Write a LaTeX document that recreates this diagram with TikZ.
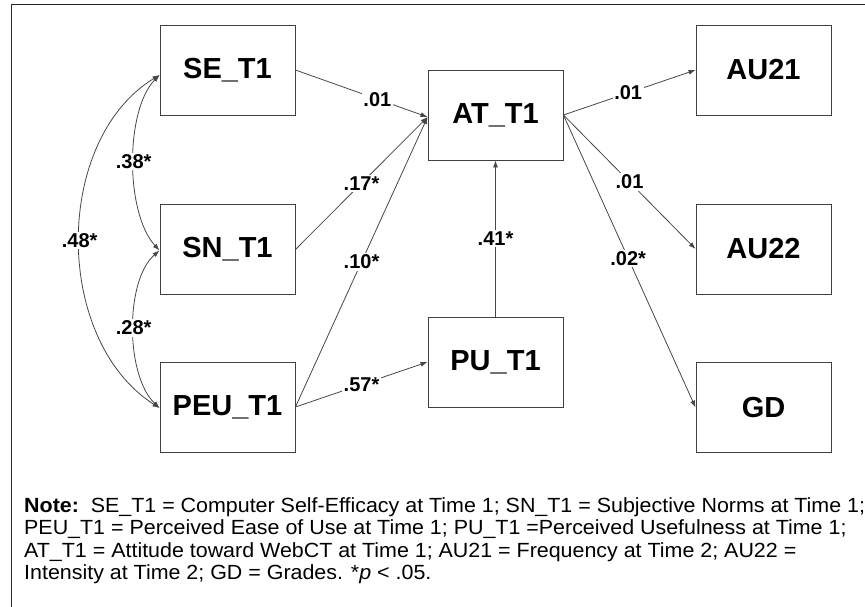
\documentclass[tikz,border=0pt]{standalone}
\usepackage{fontspec}
\setmainfont{Liberation Sans}
\newfontfamily\notefont[FakeStretch=1.045]{Liberation Sans}
\usetikzlibrary{arrows.meta,positioning}
\begin{document}
\begin{tikzpicture}[x=1pt,y=-1pt,
  var/.style={draw=black!75,line width=0.9pt,minimum width=135pt,minimum height=90pt,inner sep=0pt,
    font=\fontsize{29}{31}\selectfont\bfseries},
  path/.style={draw=black!72,line width=0.8pt,-{Latex[length=7pt,width=5pt]}},
  cov/.style={draw=black!72,line width=0.8pt,{Latex[length=7pt,width=5pt]}-{Latex[length=7pt,width=5pt]}},
  lab/.style={fill=white,inner sep=1.5pt,font=\fontsize{20}{22}\selectfont\bfseries}]
\useasboundingbox (0,0) rectangle (865,607);
\draw[black!85,line width=1pt] (11,607) -- (11,5) -- (865,5);
% variables
\node[var] (se)   at (227.5,70)  {SE\_T1};
\node[var] (sn)   at (227.5,249.5) {SN\_T1};
\node[var] (peu)  at (227.5,407) {PEU\_T1};
\node[var] (at)   at (495.5,115) {AT\_T1};
\node[var] (pu)   at (495.5,362) {PU\_T1};
\node[var] (au21) at (763.5,70)  {AU21};
\node[var] (au22) at (763.5,249) {AU22};
\node[var] (gd)   at (763.5,407.5) {GD};
% paths
\path[path] (se.east)  -- node[lab,pos=0.62] {.01}  ([yshift=-2pt]at.west);
\path[path] (sn.east)  -- node[lab,pos=0.5]  {.17*} ([yshift=-2pt]at.west);
\path[path] (peu.east) -- node[lab,pos=0.5]  {.10*} ([yshift=-2pt]at.west);
\path[path] (peu.east) -- node[lab,pos=0.5]  {.57*} (pu.west);
\path[path] (pu.north) -- node[lab,pos=0.5]  {.41*} (at.south);
\path[path] (at.east)  -- node[lab,pos=0.49] {.01}  (au21.west);
\path[path] (at.east)  -- node[lab,pos=0.5]  {.01}  (au22.west);
\path[path] (at.east)  -- node[lab,pos=0.49] {.02*} (gd.west);
% covariances
\path[cov] ([yshift=-5pt]se.west) .. controls (125,110) and (125,213) .. node[lab,pos=0.5] {.38*} ([yshift=-1pt]sn.west);
\path[cov] ([yshift=-1pt]sn.west) .. controls (125,280) and (125,375) .. node[lab,pos=0.5] {.28*} ([yshift=-1pt]peu.west);
\path[cov] ([yshift=-5pt]se.west) .. controls (53,140) and (53,340) .. node[lab,pos=0.5] {.48*} ([yshift=-1pt]peu.west);
% note
\node[anchor=north west,align=left,inner sep=0pt,font=\notefont\fontsize{20.5}{22.5}\selectfont] (note) at (24,497)
{\textbf{Note:}\ \ SE\_T1 = Computer Self-Efficacy at Time 1; SN\_T1 = Subjective Norms at Time 1;\\
PEU\_T1 = Perceived Ease of Use at Time 1; PU\_T1 =Perceived Usefulness at Time 1;\\
AT\_T1 = Attitude toward WebCT at Time 1; AU21 = Frequency at Time 2; AU22 =\\
Intensity at Time 2; GD = Grades. *\textit{p} < .05.};
\end{tikzpicture}
\end{document}
